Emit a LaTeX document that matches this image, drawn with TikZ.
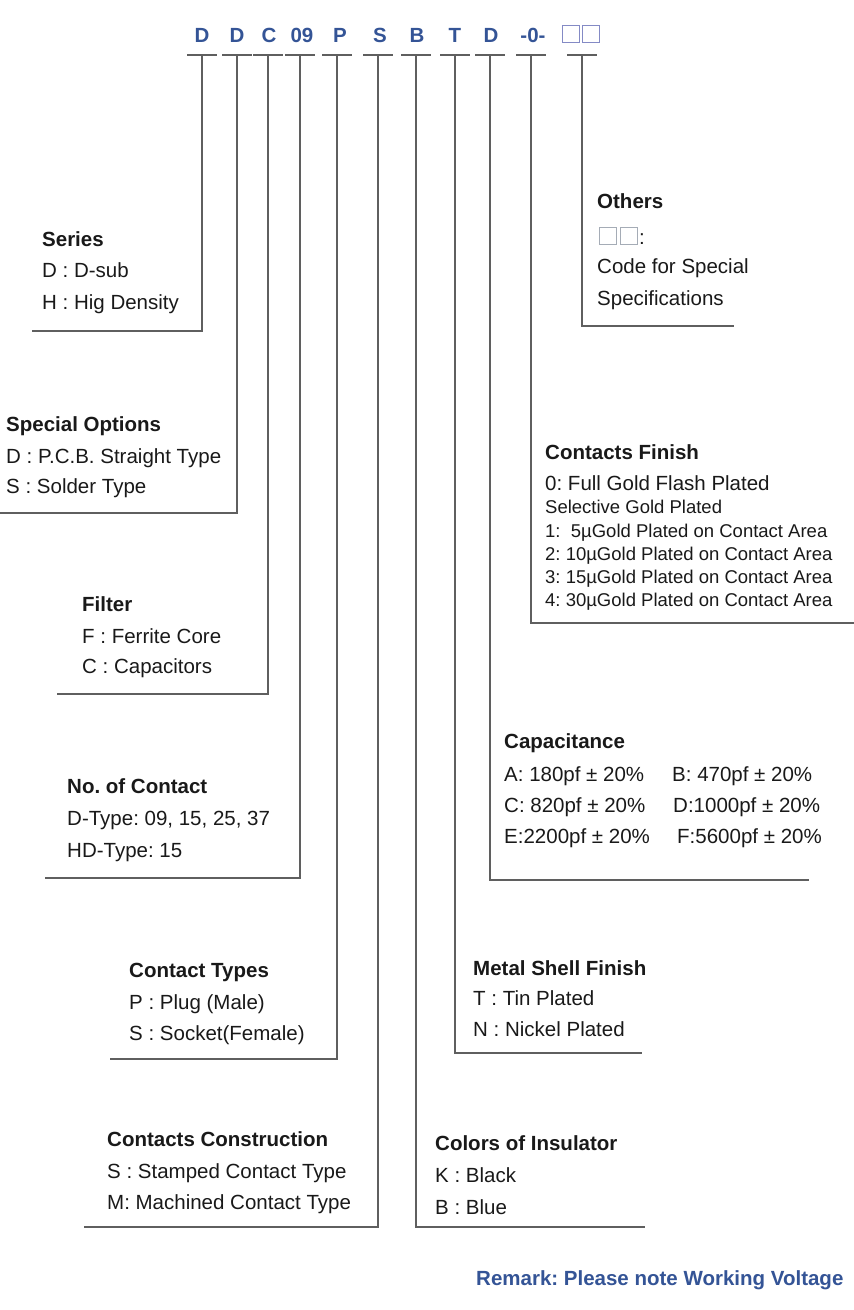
\documentclass[tikz,border=0pt]{standalone}
\usepackage{tikz}
\usepackage{fontspec}
\setmainfont{Liberation Sans}
\frenchspacing
\definecolor{codeblue}{RGB}{52,84,150}
\definecolor{linegray}{RGB}{95,95,95}
\definecolor{txtc}{RGB}{25,25,25}
\definecolor{boxgray}{RGB}{165,172,182}
\tikzset{
  conn/.style={draw=linegray, line width=1.1pt},
  code/.style={inner sep=0, anchor=base, text=codeblue, font=\fontsize{20.5}{24}\selectfont\bfseries},
  txt/.style={inner sep=0, anchor=base west, text=txtc, font=\fontsize{20.5}{24}\selectfont},
  ttl/.style={txt, font=\fontsize{20.5}{24}\selectfont\bfseries},
  sm/.style={txt, font=\fontsize{18.5}{22}\selectfont},
  sq/.style={draw=boxgray, line width=0.9pt, minimum width=17pt, minimum height=17pt, inner sep=0},
  remark/.style={inner sep=0, anchor=base west, text=codeblue, font=\fontsize{20.5}{24}\selectfont\bfseries},
}
\begin{document}
\frenchspacing
\begin{tikzpicture}[x=1pt,y=-1pt]
\useasboundingbox (0,0) rectangle (854,1310);

% ---- header code ----
\node[code] (h1) at (202,42) {D};
\node[code] (h2) at (237,42) {D};
\node[code] (h3) at (269,42) {C};
\node[code] (h4) at (302,42) {09};
\node[code] (h5) at (340,42) {P};
\node[code] (h6) at (380,42) {S};
\node[code] (h7) at (417,42) {B};
\node[code] (h8) at (455,42) {T};
\node[code] (h9) at (491,42) {D};
\node[code] (h10) at (533,42) {-0-};
\node[sq, draw=boxgray!80!blue] (h11a) at (571,34) {};
\node[sq, draw=boxgray!80!blue] (h11b) at (591,34) {};

% ---- connector coordinates: top, corner, end ----
\coordinate (t1) at (202,55);  \coordinate (c1) at (202,331);  \coordinate (e1) at (32,331);
\coordinate (t2) at (237,55);  \coordinate (c2) at (237,513);  \coordinate (e2) at (0,513);
\coordinate (t3) at (268,55);  \coordinate (c3) at (268,694);  \coordinate (e3) at (57,694);
\coordinate (t4) at (300,55);  \coordinate (c4) at (300,878);  \coordinate (e4) at (45,878);
\coordinate (t5) at (337,55);  \coordinate (c5) at (337,1059); \coordinate (e5) at (110,1059);
\coordinate (t6) at (378,55);  \coordinate (c6) at (378,1227); \coordinate (e6) at (84,1227);
\coordinate (t7) at (416,55);  \coordinate (c7) at (416,1227); \coordinate (e7) at (645,1227);
\coordinate (t8) at (455,55);  \coordinate (c8) at (455,1053); \coordinate (e8) at (642,1053);
\coordinate (t9) at (490,55);  \coordinate (c9) at (490,880);  \coordinate (e9) at (809,880);
\coordinate (t10) at (531,55); \coordinate (c10) at (531,623); \coordinate (e10) at (854,623);
\coordinate (t11) at (582,55); \coordinate (c11) at (582,326); \coordinate (e11) at (734,326);

\foreach \i in {1,...,11}{
  \draw[conn] ([xshift=-15pt]t\i) -- ([xshift=15pt]t\i);
  \draw[conn] (t\i) -- (c\i) -- (e\i);
}

% ---- Series ----
\node[ttl] (ser0) at (42,246) {Series};
\node[txt] (ser1) at (42,277) {D : D-sub};
\node[txt] (ser2) at (42,309) {H : Hig Density};

% ---- Special Options ----
\node[ttl] (spo0) at (6,431) {Special Options};
\node[txt] (spo1) at (6,463) {D : P.C.B. Straight Type};
\node[txt] (spo2) at (6,493) {S : Solder Type};

% ---- Filter ----
\node[ttl] (fil0) at (82,611) {Filter};
\node[txt] (fil1) at (82,643) {F : Ferrite Core};
\node[txt] (fil2) at (82,673) {C : Capacitors};

% ---- No. of Contact ----
\node[ttl] (noc0) at (67,793) {No. of Contact};
\node[txt] (noc1) at (67,825) {D-Type: 09, 15, 25, 37};
\node[txt] (noc2) at (67,857) {HD-Type: 15};

% ---- Contact Types ----
\node[ttl] (cty0) at (129,977) {Contact Types};
\node[txt] (cty1) at (129,1009) {P : Plug (Male)};
\node[txt] (cty2) at (129,1040) {S : Socket(Female)};

% ---- Contacts Construction ----
\node[ttl] (cco0) at (107,1146) {Contacts Construction};
\node[txt] (cco1) at (107,1178) {S : Stamped Contact Type};
\node[txt] (cco2) at (107,1209) {M: Machined Contact Type};

% ---- Colors of Insulator ----
\node[ttl] (col0) at (435,1150) {Colors of Insulator};
\node[txt] (col1) at (435,1182) {K : Black};
\node[txt] (col2) at (435,1214) {B : Blue};

% ---- Metal Shell Finish ----
\node[ttl] (msf0) at (473,975) {Metal Shell Finish};
\node[txt] (msf1) at (473,1005) {T : Tin Plated};
\node[txt] (msf2) at (473,1036) {N : Nickel Plated};

% ---- Capacitance ----
\node[ttl] (cap0) at (504,748) {Capacitance};
\node[txt] (capA) at (504,781) {A: 180pf ± 20\%};
\node[txt] (capB) at (672,781) {B: 470pf ± 20\%};
\node[txt] (capC) at (504,812) {C: 820pf ± 20\%};
\node[txt] (capD) at (673,812) {D:1000pf ± 20\%};
\node[txt] (capE) at (504,843) {E:2200pf ± 20\%};
\node[txt] (capF) at (677,843) {F:5600pf ± 20\%};

% ---- Contacts Finish ----
\node[ttl] (cfi0) at (545,459) {Contacts Finish};
\node[txt] (cfi1) at (545,490) {0: Full Gold Flash Plated};
\node[sm] (cfi2) at (545,513) {Selective Gold Plated};
\node[sm] (cfi3) at (545,537) {1:\ \ 5µGold Plated on Contact Area};
\node[sm] (cfi4) at (545,560) {2: 10µGold Plated on Contact Area};
\node[sm] (cfi5) at (545,583) {3: 15µGold Plated on Contact Area};
\node[sm] (cfi6) at (545,606) {4: 30µGold Plated on Contact Area};

% ---- Others ----
\node[ttl] (oth0) at (597,208) {Others};
\node[sq] (othA) at (607.5,235.5) {};
\node[sq] (othB) at (628.5,235.5) {};
\node[txt] (othC) at (639,244) {:};
\node[txt] (oth1) at (597,273) {Code for Special};
\node[txt] (oth2) at (597,305) {Specifications};

% ---- Remark ----
\node[remark] (rem) at (476,1285) {Remark: Please note Working Voltage};
\end{tikzpicture}
\end{document}
